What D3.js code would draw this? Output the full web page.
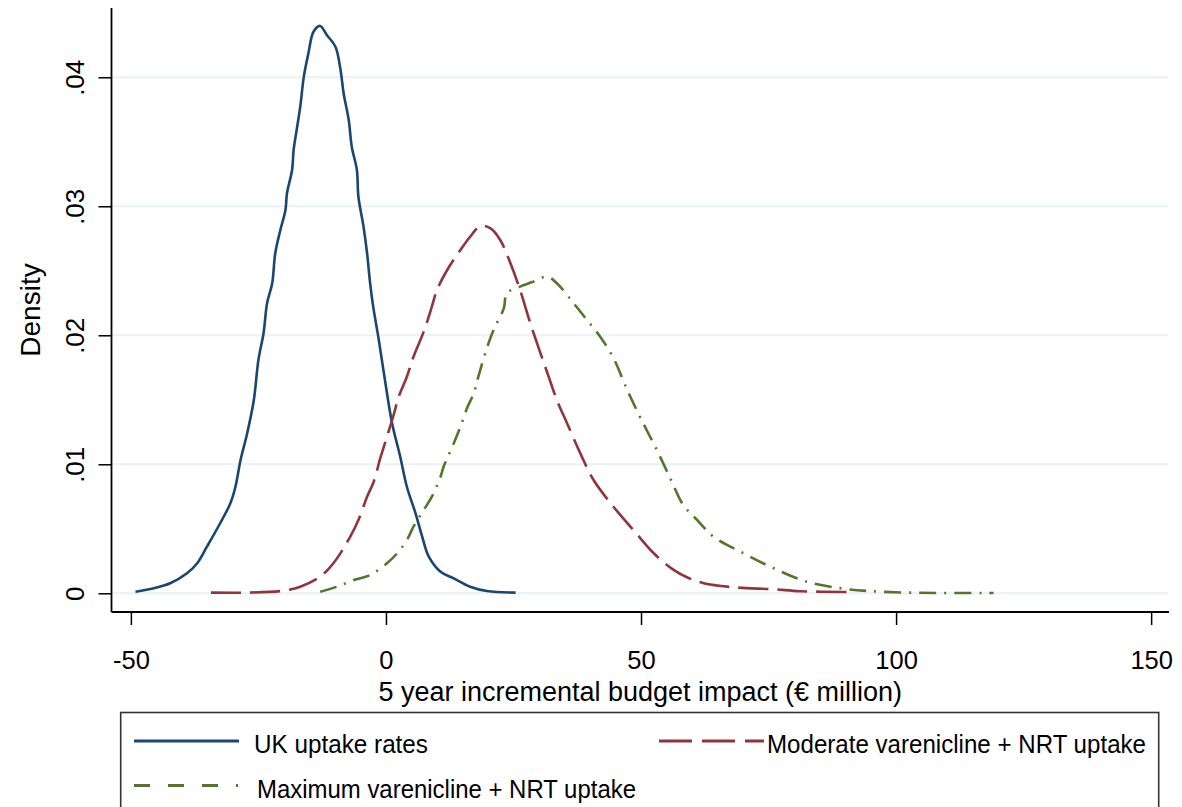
<!DOCTYPE html>
<html>
<head>
<meta charset="utf-8">
<script src="https://cdn.jsdelivr.net/npm/d3@7"></script>
<style>
  body { margin: 0; background: #fff; }
  text { font-family: Arial, "Liberation Sans", sans-serif; fill: #000; }
</style>
</head>
<body>
<div id="chart"></div>
<script>
// kernel density curves: [x (€ million), density]
const ukUptake = [
  [-49.1, 0.00012], [-45.5, 0.00039], [-42.3, 0.00078], [-39.0, 0.00155], [-37.0, 0.00233],
  [-35.1, 0.00361], [-32.5, 0.00543], [-30.5, 0.00698], [-29.5, 0.00826], [-28.5, 0.01033],
  [-27.2, 0.0124], [-25.9, 0.01498], [-25.0, 0.01809], [-24.0, 0.02016], [-23.3, 0.02248],
  [-22.3, 0.02403], [-21.7, 0.02636], [-20.7, 0.02816], [-19.7, 0.02971], [-19.4, 0.03101],
  [-18.4, 0.03281], [-18.1, 0.03436], [-17.4, 0.03617], [-16.8, 0.03772], [-16.1, 0.04005],
  [-15.2, 0.04186], [-14.2, 0.04353], [-12.9, 0.04398], [-11.6, 0.04328], [-9.9, 0.04237],
  [-8.9, 0.04057], [-8.3, 0.03876], [-7.3, 0.03669], [-6.7, 0.03462], [-5.7, 0.03281],
  [-5.4, 0.03074], [-4.4, 0.02842], [-3.7, 0.02636], [-3.1, 0.02403], [-2.5, 0.02222],
  [-1.4, 0.01964], [-0.1, 0.01628], [1.2, 0.01318], [2.8, 0.01059], [4.1, 0.00826],
  [5.8, 0.0062], [7.1, 0.00439], [8.4, 0.00284], [10.7, 0.00167], [13.3, 0.00116],
  [16.5, 0.00051], [19.8, 0.00018], [25.4, 0.00005]
];
const moderateUptake = [
  [-34.3, 0.00005], [-27.2, 0.00005], [-20.1, 0.0002], [-16.8, 0.00051], [-12.9, 0.00129],
  [-10.3, 0.00233], [-7.0, 0.00439], [-5.4, 0.00568], [-3.7, 0.00749], [-2.4, 0.00865],
  [-1.1, 0.01049], [0.2, 0.01214], [1.5, 0.01382], [2.5, 0.01524], [4.1, 0.01679],
  [5.4, 0.01834], [7.4, 0.02028], [9.0, 0.02222], [10.0, 0.02351], [12.0, 0.02506],
  [14.6, 0.02661], [16.5, 0.02764], [18.5, 0.02847], [20.5, 0.02829], [22.4, 0.02739],
  [24.4, 0.02558], [26.3, 0.02351], [28.3, 0.02093], [30.3, 0.0186], [31.9, 0.01679],
  [33.5, 0.01498], [35.5, 0.01318], [38.1, 0.01085], [40.7, 0.00878], [44.6, 0.00671],
  [48.5, 0.00491], [52.5, 0.0031], [56.4, 0.00181], [59.0, 0.00124], [62.3, 0.00078],
  [68.1, 0.00047], [76.0, 0.00031], [81.2, 0.00016], [90.4, 0.0001]
];
const maximumUptake = [
  [-12.9, 0.00012], [-9.6, 0.00051], [-6.3, 0.00103], [-3.1, 0.00142], [0.2, 0.00233],
  [2.2, 0.0031], [4.1, 0.00413], [5.4, 0.00516], [7.4, 0.00646], [9.0, 0.00749],
  [10.7, 0.00904], [11.3, 0.00981], [13.3, 0.01163], [14.6, 0.01291], [15.9, 0.01436],
  [17.2, 0.0155], [18.2, 0.01692], [19.8, 0.01902], [21.1, 0.02041], [23.1, 0.02209],
  [23.7, 0.02326], [26.3, 0.02377], [28.9, 0.02416], [31.6, 0.02454], [33.5, 0.02403],
  [36.8, 0.02248], [39.4, 0.02119], [42.0, 0.01989], [44.6, 0.01824], [47.3, 0.01576],
  [49.9, 0.01359], [53.1, 0.01111], [55.7, 0.00894], [58.3, 0.00684], [61.0, 0.00568],
  [64.2, 0.00439], [70.1, 0.0031], [76.0, 0.00194], [82.5, 0.0009], [89.1, 0.00039],
  [94.3, 0.00018], [102.8, 0.00005], [119.1, 0.00002]
];

const xTicks = [-50, 0, 50, 100, 150];
const yTicks = [0, 0.01, 0.02, 0.03, 0.04];
const seriesNames = ["UK uptake rates", "Moderate varenicline + NRT uptake", "Maximum varenicline + NRT uptake"];

const W = 1182, H = 807;
const svg = d3.select("#chart").append("svg")
  .attr("width", W).attr("height", H);

// plot region (stata-like graph region)
const plotL = 111.5, plotR = 1169, plotT = 8, plotB = 612;

const x = d3.scaleLinear().domain([-53.8, 153.5]).range([plotL, plotR]);
const y = d3.scaleLinear().domain([-0.00145, 0.04537]).range([plotB, plotT]);

// gridlines
svg.append("g")
  .selectAll("line")
  .data(yTicks)
  .join("line")
  .attr("x1", plotL + 1).attr("x2", plotR - 1)
  .attr("y1", d => y(d)).attr("y2", d => y(d))
  .attr("stroke", "#eaf2f3")
  .attr("stroke-width", 2);

// curves
const line = d3.line()
  .curve(d3.curveCatmullRom.alpha(0.5))
  .x(d => x(d[0]))
  .y(d => y(d[1]));

const series = [
  { data: ukUptake, color: "#1a476f", dash: null },
  { data: moderateUptake, color: "#90353b", dash: "30,9" },
  { data: maximumUptake, color: "#55752f", dash: "17,8,2,8" }
];

svg.append("g")
  .selectAll("path")
  .data(series)
  .join("path")
  .attr("d", d => line(d.data))
  .attr("fill", "none")
  .attr("stroke", d => d.color)
  .attr("stroke-width", 2.6)
  .attr("stroke-linejoin", "round")
  .attr("stroke-dasharray", d => d.dash);

// y axis
const yAxis = svg.append("g")
  .attr("transform", `translate(${plotL},0)`)
  .call(d3.axisLeft(y).tickValues(yTicks).tickSize(13)
    .tickFormat(d => d === 0 ? "0" : d3.format(".2f")(d).replace(/^0/, "")));
yAxis.select(".domain").remove();
yAxis.selectAll(".tick line").attr("stroke", "#000").attr("stroke-width", 1.5);
yAxis.selectAll(".tick text")
  .attr("x", null).attr("dy", null)
  .attr("transform", "translate(-28,0) rotate(-90)")
  .attr("text-anchor", "middle")
  .style("font-size", "26px");
svg.append("line")
  .attr("x1", plotL).attr("x2", plotL)
  .attr("y1", plotT).attr("y2", plotB)
  .attr("stroke", "#000").attr("stroke-width", 1.8);

// x axis
const xAxis = svg.append("g")
  .attr("transform", `translate(0,${plotB})`)
  .call(d3.axisBottom(x).tickValues(xTicks).tickSize(13).tickFormat(d => String(d)));
xAxis.select(".domain").remove();
xAxis.selectAll(".tick line").attr("stroke", "#000").attr("stroke-width", 1.5);
xAxis.selectAll(".tick text")
  .attr("y", 57).attr("dy", null)
  .style("font-size", "25.5px");
svg.append("line")
  .attr("x1", plotL).attr("x2", plotR)
  .attr("y1", plotB).attr("y2", plotB)
  .attr("stroke", "#000").attr("stroke-width", 1.8);

// axis titles
svg.append("text")
  .attr("x", (plotL + plotR) / 2).attr("y", 701)
  .attr("text-anchor", "middle")
  .style("font-size", "27px")
  .text("5 year incremental budget impact (€ million)");

svg.append("text")
  .attr("transform", `translate(40,${(plotT + plotB) / 2}) rotate(-90)`)
  .attr("text-anchor", "middle")
  .style("font-size", "28px")
  .text("Density");

// legend
const legend = svg.append("g");
legend.append("rect")
  .attr("x", 120.7).attr("y", 712.5)
  .attr("width", 1038).attr("height", 120)
  .attr("fill", "#fff")
  .attr("stroke", "#333").attr("stroke-width", 1.6);

const legendItems = [
  { name: seriesNames[0], color: "#1a476f", dash: null, x1: 134, x2: 239, ly: 741, tx: 254, ty: 753, tw: 174 },
  { name: seriesNames[1], color: "#90353b", dash: "33,10", x1: 659, x2: 764, ly: 741, tx: 767, ty: 753, tw: 379 },
  { name: seriesNames[2], color: "#55752f", dash: "16,18,16,18,16,18,2,30", x1: 134, x2: 239, ly: 785.5, tx: 257, ty: 798, tw: 379 }
];

legend.selectAll("line")
  .data(legendItems)
  .join("line")
  .attr("x1", d => d.x1).attr("x2", d => d.x2)
  .attr("y1", d => d.ly).attr("y2", d => d.ly)
  .attr("stroke", d => d.color)
  .attr("stroke-width", 2.8)
  .attr("stroke-dasharray", d => d.dash);

legend.selectAll("text")
  .data(legendItems)
  .join("text")
  .attr("x", d => d.tx).attr("y", d => d.ty)
  .attr("textLength", d => d.tw)
  .attr("lengthAdjust", "spacingAndGlyphs")
  .style("font-size", "26px")
  .text(d => d.name);
</script>
</body>
</html>
